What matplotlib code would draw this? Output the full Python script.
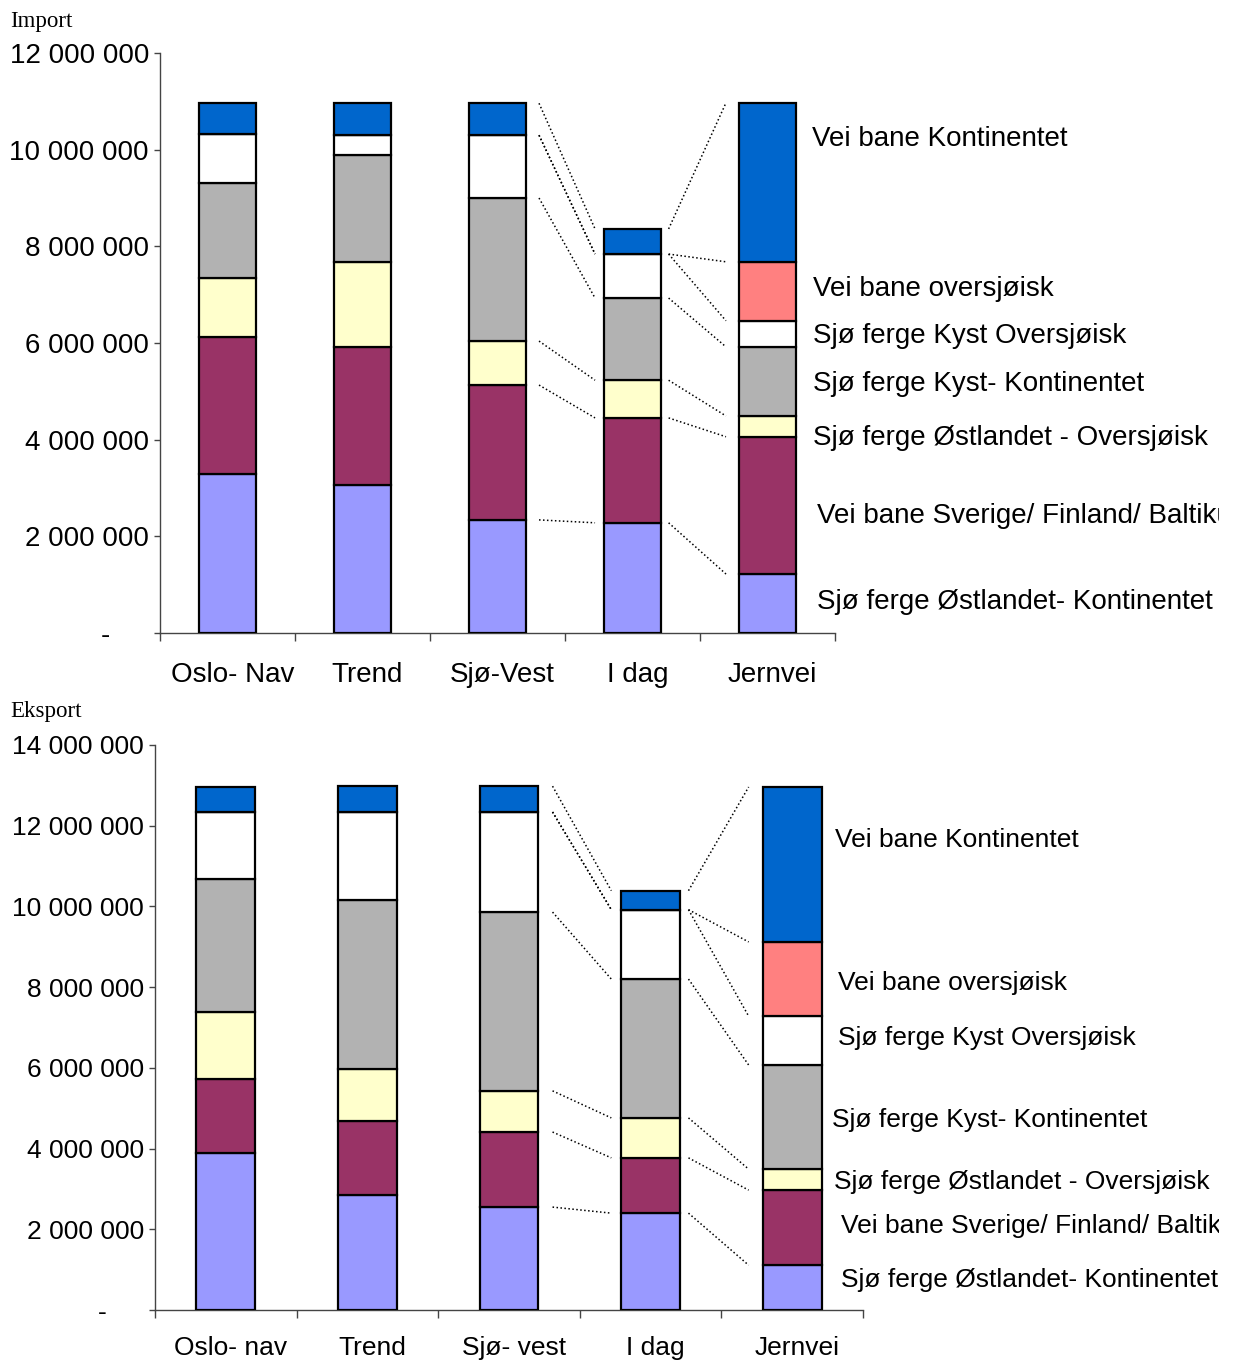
import numpy as np
import matplotlib
matplotlib.use("Agg")
import matplotlib.pyplot as plt
from matplotlib.transforms import Bbox, TransformedBbox, ScaledTranslation

plt.rcParams['font.family'] = ['Liberation Sans', 'DejaVu Sans']

# series, bottom of the stack first
series = ["Sjø ferge Østlandet- Kontinentet",
          "Vei bane Sverige/ Finland/ Baltikum",
          "Sjø ferge Østlandet - Oversjøisk",
          "Sjø ferge Kyst- Kontinentet",
          "Sjø ferge Kyst Oversjøisk",
          "Vei bane oversjøisk",
          "Vei bane Kontinentet"]
colors = ["#9999FF", "#993366", "#FFFFCC", "#B2B2B2", "#FFFFFF", "#FF8080", "#0066CC"]

imp_categories = ["Oslo- Nav", "Trend", "Sjø-Vest", "I dag", "Jernvei"]
exp_categories = ["Oslo- nav", "Trend", "Sjø- vest", "I dag", "Jernvei"]

# Import (tonn), one list per series
imp_ostl_kont = [3280000, 3070000, 2340000, 2280000, 1220000]
imp_vei_sverige = [2840000, 2850000, 2790000, 2170000, 2840000]
imp_ostl_overs = [1230000, 1760000, 910000, 780000, 430000]
imp_kyst_kont = [1960000, 2210000, 2960000, 1700000, 1430000]
imp_kyst_overs = [1010000, 410000, 1300000, 910000, 540000]
imp_vei_overs = [0, 0, 0, 0, 1220000]
imp_vei_kont = [640000, 660000, 660000, 520000, 3290000]

# Eksport
exp_ostl_kont = [3880000, 2850000, 2550000, 2400000, 1110000]
exp_vei_sverige = [1840000, 1840000, 1860000, 1370000, 1860000]
exp_ostl_overs = [1670000, 1270000, 1020000, 990000, 520000]
exp_kyst_kont = [3290000, 4190000, 4430000, 3440000, 2580000]
exp_kyst_overs = [1650000, 2190000, 2480000, 1720000, 1210000]
exp_vei_overs = [0, 0, 0, 0, 1840000]
exp_vei_kont = [640000, 640000, 640000, 470000, 3840000]

imp_yticks = [0, 2000000, 4000000, 6000000, 8000000, 10000000, 12000000]
imp_yticklabels = ["-     ", "2 000 000", "4 000 000", "6 000 000", "8 000 000",
                   "10 000 000", "12 000 000"]
exp_yticks = [0, 2000000, 4000000, 6000000, 8000000, 10000000, 12000000, 14000000]
exp_yticklabels = ["-     ", "2 000 000", "4 000 000", "6 000 000", "8 000 000",
                   "10 000 000", "12 000 000", "14 000 000"]

W, H = 1236, 1363
fig = plt.figure(figsize=(W / 100, H / 100), dpi=100)
clip = TransformedBbox(Bbox([[0, 0], [1219 / W, 1]]), fig.transFigure)


def panel(rect, cats, data, yticks, yticklabels, title, title_y, lab_x, lab_base, fs, xpad):
    ax = fig.add_axes(rect)
    vals = np.array(data, dtype=float)
    x = np.arange(len(cats))
    w = 0.415
    bottom = np.zeros(len(cats))
    for v, c in zip(vals, colors):
        ax.bar(x, v, w, bottom=bottom, color=c, edgecolor="black", linewidth=1.6, zorder=3)
        bottom += v

    # dotted connector lines between "Sjø-Vest" -> "I dag" -> "Jernvei"
    cum = np.cumsum(vals, axis=0)
    for k in range(cum.shape[0]):
        ax.plot([2 + w / 2 + 0.1, 3 - w / 2 - 0.07], [cum[k, 2], cum[k, 3]],
                color="black", lw=1.1, ls=(0, (1, 1.6)), zorder=2)
        ax.plot([3 + w / 2 + 0.06, 4 - w / 2 - 0.1], [cum[k, 3], cum[k, 4]],
                color="black", lw=1.1, ls=(0, (1, 1.6)), zorder=2)

    ax.set_xlim(-0.5, len(cats) - 0.5)
    ax.set_ylim(0, yticks[-1])
    for s in ["top", "right"]:
        ax.spines[s].set_visible(False)
    for s in ["left", "bottom"]:
        ax.spines[s].set_color("#444444")
        ax.spines[s].set_linewidth(1.0)
    ax.set_yticks(yticks)
    ax.set_yticklabels(yticklabels, fontsize=fs)
    ax.tick_params(axis="y", direction="out", length=4.5, width=1, color="#444444", pad=3.5)
    ax.set_xticks(x)
    ax.set_xticklabels(cats, fontsize=fs)
    ax.tick_params(axis="x", which="major", length=0, pad=xpad)
    ax.set_xticks(np.arange(len(cats) + 1) - 0.5, minor=True)
    ax.tick_params(axis="x", which="minor", direction="out", length=6, width=1, color="#444444")
    shift = ScaledTranslation(5 / 100, 0, fig.dpi_scale_trans)
    for lab in ax.xaxis.get_majorticklabels():
        lab.set_transform(lab.get_transform() + shift)

    fig.text(10 / W, 1 - title_y / H, title, family="Liberation Serif",
             fontsize=16.5, va="center", ha="left")
    for name, lx, ly in zip(series[::-1], lab_x, lab_base):
        t = fig.text(lx / W, 1 - ly / H, name, fontsize=fs, ha="left", va="baseline")
        t.set_clip_box(clip)
        t.set_clip_on(True)
    return ax


panel([160 / W, 1 - 633 / H, 675 / W, 580 / H], imp_categories,
      [imp_ostl_kont, imp_vei_sverige, imp_ostl_overs, imp_kyst_kont,
       imp_kyst_overs, imp_vei_overs, imp_vei_kont],
      imp_yticks, imp_yticklabels, "Import", 21,
      [812, 813, 813, 813, 813, 817, 817],
      [146, 296, 343, 391, 445, 523, 609], 20, 21)

panel([155 / W, 1 - 1310 / H, 708 / W, 565 / H], exp_categories,
      [exp_ostl_kont, exp_vei_sverige, exp_ostl_overs, exp_kyst_kont,
       exp_kyst_overs, exp_vei_overs, exp_vei_kont],
      exp_yticks, exp_yticklabels, "Eksport", 711,
      [835, 838, 838, 832, 834, 841, 841],
      [847, 990, 1045, 1127, 1189, 1233, 1287], 19, 19)

fig.savefig("out.png", dpi=100, facecolor="white")
